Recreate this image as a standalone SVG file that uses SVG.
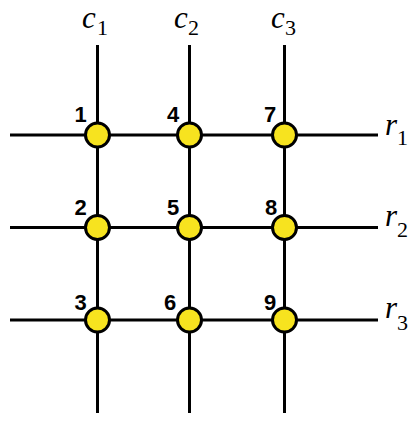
<svg xmlns="http://www.w3.org/2000/svg" width="417" height="422" viewBox="0 0 417 422">
<style>
.ln{stroke:#000;stroke-width:3;fill:none}
.nd{fill:#f7e31f;stroke:#000;stroke-width:3}
.num{font-family:"Liberation Sans",Arial,sans-serif;font-weight:bold;font-size:22px;fill:#000;text-anchor:middle}
.var{font-family:"Liberation Serif","Times New Roman",serif;font-style:italic;font-size:31px;fill:#000}
.sub{font-family:"Liberation Serif","Times New Roman",serif;font-size:22px;fill:#000}
</style>
<rect width="417" height="422" fill="#fff"/>
<g id="connectors">
<line class="ln" x1="97.5" y1="45" x2="97.5" y2="413"/>
<line class="ln" x1="189.5" y1="45" x2="189.5" y2="413"/>
<line class="ln" x1="284.5" y1="45" x2="284.5" y2="413"/>
<line class="ln" x1="10" y1="135" x2="378" y2="135"/>
<line class="ln" x1="10" y1="227.5" x2="378" y2="227.5"/>
<line class="ln" x1="10" y1="320" x2="378" y2="320"/>
</g>
<g id="labels">
<g id="c1"><text class="var" x="82" y="28">c</text><text class="sub" x="97" y="35">1</text></g>
<g id="c2"><text class="var" x="174" y="28">c</text><text class="sub" x="188" y="35">2</text></g>
<g id="c3"><text class="var" x="271" y="28">c</text><text class="sub" x="285" y="35">3</text></g>
<g id="r1"><text class="var" x="385" y="135">r</text><text class="sub" x="397" y="145">1</text></g>
<g id="r2"><text class="var" x="385" y="226">r</text><text class="sub" x="397" y="237">2</text></g>
<g id="r3"><text class="var" x="385" y="318">r</text><text class="sub" x="397" y="330">3</text></g>
</g>
<g id="n1"><circle class="nd" cx="97.5" cy="135" r="12"/><text class="num" x="80.5" y="122">1</text></g>
<g id="n4"><circle class="nd" cx="189.5" cy="135" r="12"/><text class="num" x="173" y="122">4</text></g>
<g id="n7"><circle class="nd" cx="284.5" cy="135" r="12"/><text class="num" x="270" y="122">7</text></g>
<g id="n2"><circle class="nd" cx="97.5" cy="227.5" r="12"/><text class="num" x="80.5" y="215">2</text></g>
<g id="n5"><circle class="nd" cx="189.5" cy="227.5" r="12"/><text class="num" x="173" y="215">5</text></g>
<g id="n8"><circle class="nd" cx="284.5" cy="227.5" r="12"/><text class="num" x="271" y="215">8</text></g>
<g id="n3"><circle class="nd" cx="97.5" cy="320" r="12"/><text class="num" x="80.5" y="310">3</text></g>
<g id="n6"><circle class="nd" cx="189.5" cy="320" r="12"/><text class="num" x="170" y="310">6</text></g>
<g id="n9"><circle class="nd" cx="284.5" cy="320" r="12"/><text class="num" x="270" y="310">9</text></g>
</svg>
